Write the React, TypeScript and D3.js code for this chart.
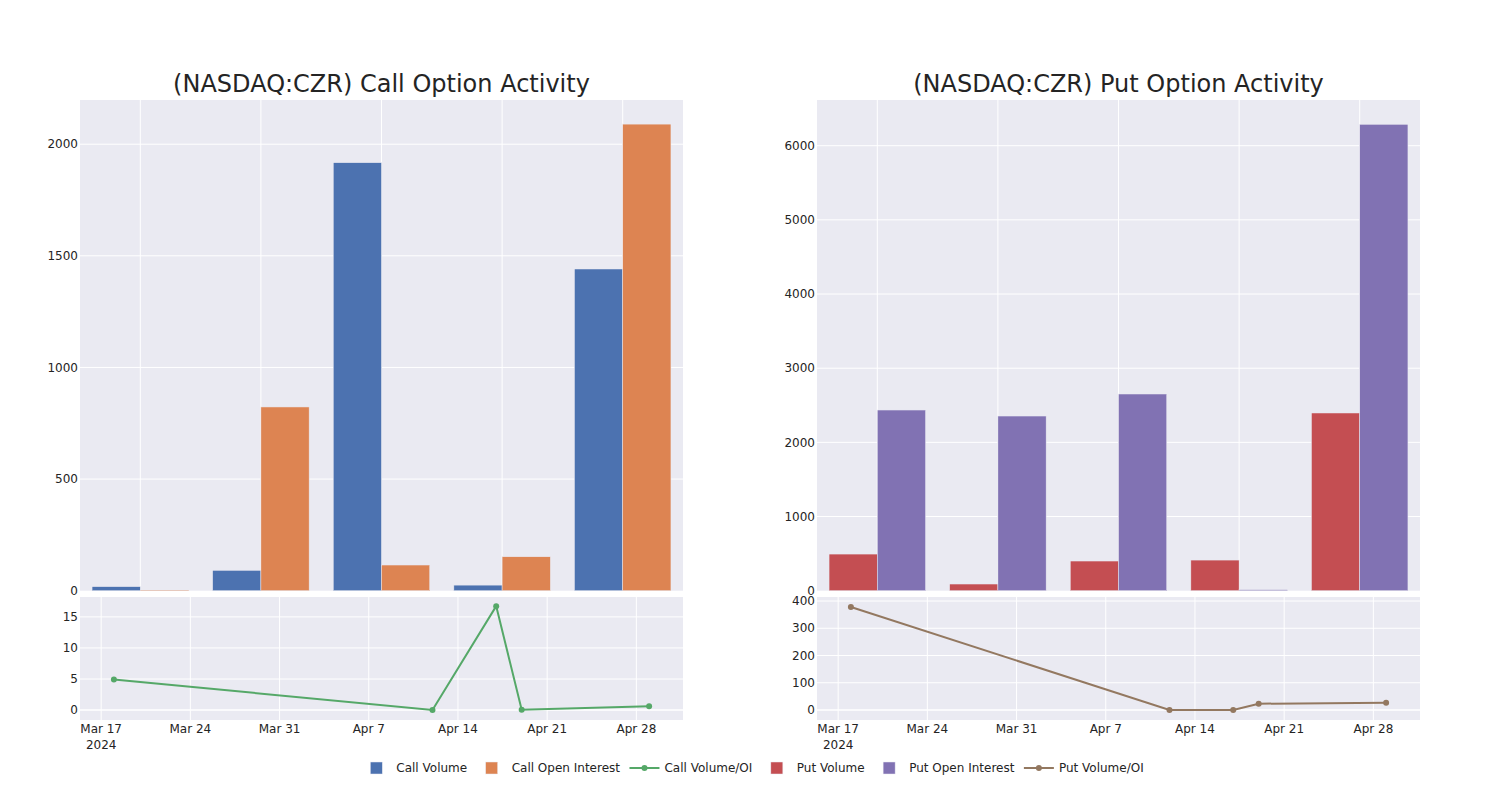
import React, { useMemo } from 'react';
import * as d3 from 'd3';

// ---------- data ----------
const categories = ['G1', 'G2', 'G3', 'G4', 'G5'];
const callVolume = [18, 91, 1917, 25, 1441];
const callOpenInterest = [3, 823, 115, 152, 2090];
const putVolume = [494, 90, 400, 413, 2396];
const putOpenInterest = [2436, 2355, 2652, 13, 6288];

const ratioDates = ['2024-03-18', '2024-04-12', '2024-04-17', '2024-04-19', '2024-04-29'];
const callRatio = [4.93, 0, 16.73, 0.05, 0.6];
const putRatio = [378, 0, 0, 23, 27];

const callBarTicks = [0, 500, 1000, 1500, 2000];
const putBarTicks = [0, 1000, 2000, 3000, 4000, 5000, 6000];
const callRatioTicks = [0, 5, 10, 15];
const putRatioTicks = [0, 100, 200, 300, 400];
const dateTicks = ['2024-03-17', '2024-03-24', '2024-03-31', '2024-04-07', '2024-04-14', '2024-04-21', '2024-04-28'];

const legendItems = [
  { label: 'Call Volume', type: 'bar', color: 'rgb(76,114,176)' },
  { label: 'Call Open Interest', type: 'bar', color: 'rgb(221,132,82)' },
  { label: 'Call Volume/OI', type: 'line', color: 'rgb(85,168,104)' },
  { label: 'Put Volume', type: 'bar', color: 'rgb(196,78,82)' },
  { label: 'Put Open Interest', type: 'bar', color: 'rgb(129,114,179)' },
  { label: 'Put Volume/OI', type: 'line', color: 'rgb(147,120,96)' },
];

// ---------- style ----------
const FONT = 'DejaVu Sans, Verdana, sans-serif';
const TEXT = 'rgb(36,36,36)';
const BG = 'rgb(234,234,242)';
const TOP_Y0 = 100;
const TOP_Y1 = 590.7;
const BOT_Y0 = 597;
const BOT_Y1 = 720;

const parseDate = (s: string) => {
  const [y, m, d] = s.split('-').map(Number);
  return new Date(Date.UTC(y, m - 1, d));
};
const DAY = 86400000;
const dateDomain: [Date, Date] = [
  new Date(parseDate('2024-03-18').getTime() - 2.66 * DAY),
  new Date(parseDate('2024-04-29').getTime() + 2.66 * DAY),
];
const fmtMonthDay = d3.utcFormat('%b %-d');

type PanelProps = {
  x0: number;
  x1: number;
  title: string;
  barA: number[];
  barB: number[];
  colorA: string;
  colorB: string;
  barMax: number;
  barTicks: number[];
  ratio: number[];
  ratioColor: string;
  ratioDomain: [number, number];
  ratioTicks: number[];
};

function Panel(p: PanelProps) {
  const xBand = d3.scaleBand<string>().domain(categories).range([p.x0, p.x1]).paddingInner(0).paddingOuter(0);
  const bw = xBand.bandwidth();
  const yBar = d3.scaleLinear().domain([0, p.barMax]).range([TOP_Y1, TOP_Y0]);
  const xTime = d3.scaleUtc().domain(dateDomain).range([p.x0, p.x1]);
  const yRatio = d3.scaleLinear().domain(p.ratioDomain).range([BOT_Y1, BOT_Y0]);
  const pts = ratioDates.map((d, i) => [xTime(parseDate(d)), yRatio(p.ratio[i])] as [number, number]);
  const line = d3.line()(pts) || '';
  const cx = (p.x0 + p.x1) / 2;

  return (
    <g>
      <text x={cx} y={91.5} textAnchor="middle" fontFamily={FONT} fontSize={24} fill={TEXT}>
        {p.title}
      </text>
      {/* top bar subplot */}
      <rect x={p.x0} y={TOP_Y0} width={p.x1 - p.x0} height={TOP_Y1 - TOP_Y0} fill={BG} />
      {categories.map((c) => {
        const gx = (xBand(c) as number) + bw / 2;
        return <line key={'vg' + c} x1={gx} x2={gx} y1={TOP_Y0} y2={TOP_Y1} stroke="#fff" strokeWidth={1} />;
      })}
      {p.barTicks.map((t) => (
        <g key={'bt' + t}>
          {t > 0 && <line x1={p.x0} x2={p.x1} y1={yBar(t)} y2={yBar(t)} stroke="#fff" strokeWidth={1} />}
          <text x={p.x0 - 2} y={yBar(t)} dy="0.35em" textAnchor="end" fontFamily={FONT} fontSize={12} fill={TEXT}>
            {t}
          </text>
        </g>
      ))}
      {categories.map((c, i) => {
        const bx = xBand(c) as number;
        const w = bw * 0.4;
        const a = p.barA[i];
        const b = p.barB[i];
        return (
          <g key={'bar' + c}>
            <rect x={bx + bw * 0.1} y={yBar(a)} width={w} height={TOP_Y1 - yBar(a)} fill={p.colorA} stroke={BG} strokeWidth={0.5} />
            <rect x={bx + bw * 0.5} y={yBar(b)} width={w} height={TOP_Y1 - yBar(b)} fill={p.colorB} stroke={BG} strokeWidth={0.5} />
          </g>
        );
      })}
      {/* bottom ratio subplot */}
      <rect x={p.x0} y={BOT_Y0} width={p.x1 - p.x0} height={BOT_Y1 - BOT_Y0} fill={BG} />
      {dateTicks.map((d, i) => {
        const dx = xTime(parseDate(d));
        return (
          <g key={'dt' + d}>
            <line x1={dx} x2={dx} y1={BOT_Y0} y2={BOT_Y1} stroke="#fff" strokeWidth={1} />
            <text x={dx} y={733} textAnchor="middle" fontFamily={FONT} fontSize={12} fill={TEXT}>
              {fmtMonthDay(parseDate(d))}
            </text>
            {i === 0 && (
              <text x={dx} y={749} textAnchor="middle" fontFamily={FONT} fontSize={12} fill={TEXT}>
                {d3.utcFormat('%Y')(parseDate(d))}
              </text>
            )}
          </g>
        );
      })}
      {p.ratioTicks.map((t) => (
        <g key={'rt' + t}>
          <line x1={p.x0} x2={p.x1} y1={yRatio(t)} y2={yRatio(t)} stroke="#fff" strokeWidth={t === 0 ? 1.5 : 1} />
          <text x={p.x0 - 2} y={yRatio(t)} dy="0.35em" textAnchor="end" fontFamily={FONT} fontSize={12} fill={TEXT}>
            {t}
          </text>
        </g>
      ))}
      <path d={line} fill="none" stroke={p.ratioColor} strokeWidth={2} />
      {pts.map((pt, i) => (
        <circle key={'pt' + i} cx={pt[0]} cy={pt[1]} r={3} fill={p.ratioColor} />
      ))}
    </g>
  );
}

function Legend() {
  const widths = useMemo(() => {
    const canvas = document.createElement('canvas');
    const ctx = canvas.getContext('2d');
    if (!ctx) return legendItems.map((l) => l.label.length * 7);
    ctx.font = '12px "DejaVu Sans"';
    return legendItems.map((l) => ctx.measureText(l.label).width);
  }, []);
  const itemW = widths.map((w) => 40 + w + 4.5);
  const total = d3.sum(itemW) - 4.5;
  let x = 750 - total / 2;
  const y = 768;
  return (
    <g>
      {legendItems.map((it, i) => {
        const sx = x;
        x += itemW[i];
        return (
          <g key={it.label} transform={`translate(${sx},${y})`}>
            {it.type === 'bar' ? (
              <rect x={14} y={-6} width={12} height={12} fill={it.color} stroke={BG} strokeWidth={0.5} />
            ) : (
              <g>
                <line x1={5} x2={35} y1={0} y2={0} stroke={it.color} strokeWidth={2} />
                <circle cx={20} cy={0} r={3} fill={it.color} />
              </g>
            )}
            <text x={40} y={0} dy="0.35em" fontFamily={FONT} fontSize={12} fill={TEXT}>
              {it.label}
            </text>
          </g>
        );
      })}
    </g>
  );
}

export default function App() {
  return (
    <svg
      width={1500}
      height={800}
      style={{ position: 'absolute', left: 0, top: 0, background: '#fff' }}
    >
      <Panel
        x0={80}
        x1={683}
        title="(NASDAQ:CZR) Call Option Activity"
        barA={callVolume}
        barB={callOpenInterest}
        colorA="rgb(76,114,176)"
        colorB="rgb(221,132,82)"
        barMax={2198}
        barTicks={callBarTicks}
        ratio={callRatio}
        ratioColor="rgb(85,168,104)"
        ratioDomain={[-1.6, 18.2]}
        ratioTicks={callRatioTicks}
      />
      <Panel
        x0={817}
        x1={1420}
        title="(NASDAQ:CZR) Put Option Activity"
        barA={putVolume}
        barB={putOpenInterest}
        colorA="rgb(196,78,82)"
        colorB="rgb(129,114,179)"
        barMax={6616}
        barTicks={putBarTicks}
        ratio={putRatio}
        ratioColor="rgb(147,120,96)"
        ratioDomain={[-36.7, 414.7]}
        ratioTicks={putRatioTicks}
      />
      <Legend />
    </svg>
  );
}
